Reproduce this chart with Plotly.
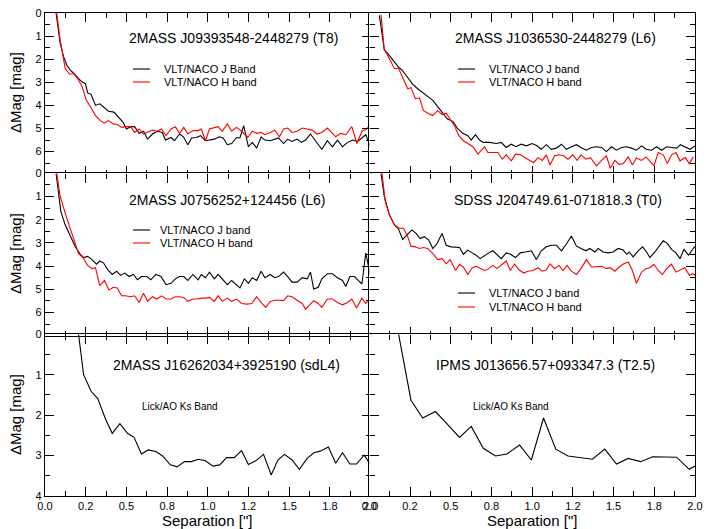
import plotly.graph_objects as go

# ---------------- data (separation ["], delta mag) ----------------
# Panel 1: 2MASS J09393548-2448279 (T8)
sep_0939_j = [0.068,0.093,0.114,0.134,0.155,0.18,0.206,0.227,0.248,0.262,0.283,0.31,0.336,0.36,0.39,0.423,0.454,0.48,0.5,0.526,0.55,0.578,0.605,0.63,0.66,0.69,0.72,0.74,0.774,0.795,0.826,0.85,0.877,0.9,0.93,0.955,0.985,1.01,1.04,1.07,1.094,1.12,1.146,1.176,1.197,1.22,1.249,1.273,1.3,1.327,1.35,1.383,1.41,1.434,1.465,1.49,1.517,1.548,1.575,1.6,1.63,1.66,1.70,1.734,1.765,1.796,1.827,1.858,1.89,1.92,1.946,1.97,2.0]
dm_0939_j = [0,1.31,1.89,2.26,2.47,2.62,2.84,2.98,3.06,3.46,3.52,4.0,3.93,4.08,4.25,4.29,4.51,4.73,5.02,4.92,4.92,5.21,5.12,5.46,5.24,5.12,5.17,5.5,5.39,5.53,5.24,5.36,5.7,5.41,5.39,5.31,5.53,5.5,5.46,5.36,5.41,5.7,5.65,5.39,5.41,4.88,5.79,5.6,5.85,5.36,5.5,5.53,5.46,5.41,5.65,5.46,5.56,5.46,5.6,5.5,5.24,5.53,5.9,5.53,5.79,5.5,5.79,5.6,5.5,5.56,5.41,5.27,5.82]
sep_0939_h = [0.072,0.093,0.124,0.151,0.175,0.2,0.227,0.254,0.283,0.31,0.34,0.365,0.39,0.42,0.444,0.47,0.495,0.526,0.55,0.578,0.605,0.63,0.66,0.687,0.716,0.743,0.774,0.8,0.826,0.852,0.877,0.908,0.94,0.96,0.985,1.01,1.04,1.063,1.088,1.12,1.146,1.176,1.207,1.245,1.273,1.3,1.327,1.35,1.383,1.41,1.44,1.465,1.49,1.517,1.548,1.58,1.61,1.64,1.67,1.70,1.734,1.765,1.785,1.816,1.847,1.884,1.915,1.946,1.975,2.0]
dm_0939_h = [0,1.16,2.4,2.65,2.62,2.84,3.17,3.78,4.1,4.44,4.66,4.77,4.66,4.8,4.83,4.95,4.92,4.92,5.17,5.02,5.24,5.17,5.07,5.12,5.02,5.31,5.02,4.92,5.21,4.95,5.24,5.09,5.09,5.02,5.53,5.02,4.98,4.92,5.12,4.8,5.12,4.95,5.12,5.39,5.12,5.21,5.17,5.27,5.17,5.07,5.36,5.02,4.98,5.17,5.12,4.98,5.02,5.07,5.24,5.17,4.98,5.21,5.36,5.21,5.27,4.92,5.65,5.12,5.02,4.83]

# Panel 2: 2MASS J1036530-2448279 (L6)
sep_1036_j = [0.062,0.092,0.113,0.144,0.174,0.205,0.236,0.267,0.297,0.328,0.359,0.39,0.42,0.45,0.48,0.513,0.544,0.574,0.605,0.626,0.652,0.677,0.7,0.738,0.78,0.81,0.84,0.872,0.9,0.933,0.964,1.0,1.03,1.056,1.087,1.118,1.149,1.18,1.21,1.241,1.272,1.3,1.333,1.364,1.395,1.426,1.456,1.487,1.518,1.549,1.58,1.61,1.64,1.672,1.7,1.733,1.764,1.795,1.826,1.856,1.887,1.91,1.945,1.97,2.0]
dm_1036_j = [0.1,1.6,1.75,2.04,2.3,2.5,2.8,3.09,3.28,3.46,3.64,3.78,4.05,4.34,4.59,4.69,5.02,5.21,5.31,5.5,5.27,5.5,5.6,5.6,5.65,5.6,5.82,5.68,5.79,5.68,5.75,5.65,5.75,5.9,5.7,5.9,5.85,5.68,5.9,5.79,5.7,5.82,5.94,5.82,5.79,5.82,6.0,5.79,5.94,5.82,5.79,5.85,5.94,5.75,5.9,5.94,5.79,5.94,5.79,5.82,5.85,5.7,5.82,5.9,5.75]
sep_1036_h = [0.072,0.092,0.123,0.154,0.18,0.205,0.236,0.256,0.283,0.308,0.332,0.359,0.39,0.42,0.447,0.472,0.496,0.523,0.55,0.578,0.605,0.636,0.667,0.687,0.708,0.728,0.759,0.79,0.816,0.841,0.872,0.898,0.927,0.954,0.985,1.009,1.036,1.062,1.087,1.11,1.138,1.165,1.194,1.22,1.25,1.276,1.3,1.33,1.358,1.395,1.426,1.456,1.48,1.508,1.534,1.56,1.59,1.616,1.64,1.672,1.7,1.723,1.748,1.774,1.805,1.83,1.856,1.883,1.908,1.94,1.965,1.99]
dm_1036_h = [0.07,1.57,1.97,2.4,2.4,2.77,3.28,3.23,3.71,3.67,4.22,4.34,4.44,4.22,4.4,4.34,4.59,4.88,5.31,5.53,5.65,5.79,6.11,5.97,5.79,6.04,6.04,6.04,6.33,6.14,6.4,6.11,6.14,6.26,6.4,6.48,6.26,6.38,6.14,6.58,6.18,6.14,6.18,6.33,6.14,6.38,6.14,6.33,6.26,6.62,6.38,6.18,6.72,6.38,6.55,6.52,6.23,6.58,6.28,6.38,6.23,6.4,6.62,6.04,6.14,6.52,6.14,6.04,6.4,6.26,6.52,6.23]

# Panel 3: 2MASS J0756252+124456 (L6)
sep_0756_j = [0.068,0.083,0.097,0.124,0.155,0.186,0.217,0.237,0.262,0.289,0.316,0.336,0.36,0.386,0.413,0.44,0.464,0.49,0.516,0.543,0.568,0.592,0.625,0.65,0.68,0.712,0.743,0.774,0.8,0.826,0.852,0.877,0.908,0.94,0.96,0.985,1.01,1.04,1.063,1.088,1.12,1.146,1.176,1.197,1.224,1.249,1.273,1.3,1.327,1.35,1.383,1.41,1.434,1.465,1.49,1.517,1.548,1.58,1.61,1.63,1.65,1.678,1.7,1.734,1.765,1.796,1.827,1.847,1.872,1.9,1.92,1.946,1.97,2.0]
dm_0756_j = [0,0.84,1.64,2.22,2.73,3.17,3.49,3.63,3.58,3.72,3.92,3.78,3.87,4.16,4.36,4.22,4.4,4.3,4.45,4.36,4.59,4.45,4.45,4.59,4.36,4.45,4.8,4.74,4.55,4.45,4.45,4.62,4.36,4.59,4.36,4.5,4.26,4.55,4.36,4.55,4.8,4.62,4.8,4.94,4.55,4.74,4.5,4.62,4.22,4.5,4.36,4.5,4.45,4.26,4.45,4.69,4.69,4.5,4.55,4.26,4.99,4.91,4.55,4.33,4.33,4.5,4.62,4.88,4.45,4.45,4.59,4.77,3.43,4.5]
sep_0756_h = [0.072,0.093,0.124,0.155,0.186,0.206,0.233,0.262,0.289,0.31,0.336,0.365,0.392,0.42,0.444,0.47,0.495,0.526,0.55,0.578,0.605,0.63,0.66,0.687,0.716,0.743,0.774,0.8,0.826,0.852,0.877,0.908,0.94,0.96,0.985,1.01,1.04,1.063,1.088,1.12,1.146,1.176,1.207,1.24,1.27,1.3,1.327,1.356,1.383,1.41,1.434,1.465,1.49,1.517,1.548,1.58,1.6,1.625,1.65,1.678,1.7,1.734,1.765,1.796,1.827,1.858,1.884,1.913,1.946,1.97,2.0]
dm_0756_h = [0,0.99,1.72,2.37,2.95,3.46,3.63,3.97,4.11,4.07,4.84,4.62,5.03,4.91,4.94,5.28,5.28,5.32,5.28,5.57,5.17,5.52,5.32,5.42,5.28,5.42,5.42,5.32,5.32,5.35,5.52,5.42,5.42,5.38,5.38,5.35,5.52,5.28,5.52,5.38,5.52,5.42,5.61,5.64,5.61,5.32,5.57,5.78,5.52,5.47,5.47,5.49,5.28,5.32,5.47,5.61,5.86,5.67,5.49,5.61,5.78,5.42,5.42,5.57,5.67,5.57,5.42,5.81,5.38,5.61,5.32]

# Panel 4: SDSS J204749.61-071818.3 (T0)
sep_2047_j = [0.072,0.092,0.123,0.154,0.18,0.205,0.236,0.262,0.287,0.312,0.338,0.365,0.39,0.414,0.447,0.472,0.503,0.533,0.554,0.578,0.605,0.632,0.656,0.68,0.708,0.734,0.759,0.784,0.81,0.841,0.866,0.898,0.927,0.96,0.995,1.026,1.056,1.087,1.118,1.149,1.18,1.21,1.241,1.272,1.3,1.33,1.354,1.385,1.405,1.436,1.467,1.497,1.528,1.559,1.58,1.596,1.62,1.651,1.678,1.703,1.723,1.754,1.78,1.805,1.83,1.856,1.883,1.908,1.932,1.96,2.0]
dm_2047_j = [0,0.99,1.79,2.22,2.41,2.85,2.62,2.44,2.59,2.81,2.73,2.88,3.24,3.05,2.59,3.1,3.17,3.2,3.2,3.49,3.31,3.43,3.53,3.68,3.53,3.43,3.34,3.49,3.68,3.43,3.49,3.63,3.43,3.39,3.34,3.72,3.34,3.17,3.1,3.1,3.34,3.05,2.7,3.14,3.24,3.34,3.24,3.39,3.24,3.39,3.43,3.39,3.24,3.31,3.49,3.39,3.6,3.34,3.17,3.39,3.63,3.39,3.14,2.91,3.02,3.28,3.43,3.68,3.28,3.53,3.14]
sep_2047_h = [0.078,0.098,0.123,0.154,0.185,0.21,0.236,0.256,0.283,0.308,0.332,0.359,0.39,0.42,0.447,0.472,0.496,0.53,0.554,0.578,0.605,0.632,0.656,0.68,0.708,0.734,0.759,0.784,0.81,0.841,0.866,0.892,0.919,0.948,0.974,1.005,1.036,1.062,1.087,1.11,1.138,1.165,1.19,1.214,1.241,1.272,1.3,1.333,1.364,1.395,1.426,1.456,1.48,1.508,1.534,1.563,1.59,1.616,1.64,1.672,1.7,1.723,1.748,1.774,1.8,1.826,1.856,1.883,1.908,1.938,1.965,1.99,2.0]
dm_2047_h = [0,1.21,1.79,2.22,2.37,2.37,2.73,3.14,3.17,3.24,3.2,3.24,3.46,3.72,3.68,3.9,3.72,4.19,3.92,4.04,4.36,4.07,4.01,4.11,4.19,4.11,3.97,4.11,3.97,3.78,4.19,3.92,4.16,4.3,4.22,4.19,4.07,4.22,4.16,3.9,4.11,3.97,4.19,3.97,4.22,4.36,4.11,3.72,4.04,4.01,4.01,4.11,4.07,4.22,4.04,3.9,3.82,4.19,4.74,4.26,4.11,4.07,3.92,4.19,4.36,4.11,3.92,4.26,4.16,4.07,4.4,4.33,4.4]

# Panel 5: 2MASS J16262034+3925190 (sdL4)
sep_1626_k = [0.206,0.237,0.283,0.324,0.372,0.413,0.46,0.506,0.547,0.592,0.634,0.681,0.722,0.77,0.811,0.857,0.898,0.943,0.985,1.032,1.073,1.115,1.162,1.207,1.249,1.294,1.342,1.389,1.43,1.47,1.517,1.562,1.61,1.651,1.69,1.74,1.785,1.827,1.872,1.913,1.96,2.0]
dm_1626_k = [0,1.0,1.41,1.59,2.1,2.45,2.21,2.45,2.55,2.96,2.86,2.9,3.01,3.23,3.28,3.15,3.15,3.09,3.13,3.26,3.23,3.05,3.05,2.88,3.22,3.13,2.97,3.48,3.11,2.97,3.11,3.34,3.07,2.93,2.89,2.79,3.19,2.93,3.21,3.21,2.99,3.23]

# Panel 6: IPMS J013656.57+093347.3 (T2.5)
sep_0136_k = [0.18,0.256,0.328,0.406,0.476,0.554,0.626,0.7,0.775,0.845,0.923,0.995,1.07,1.145,1.22,1.292,1.37,1.446,1.518,1.59,1.666,1.74,1.815,1.887,1.965,2.0]
dm_0136_k = [0,1.63,2.07,1.91,2.21,2.55,2.28,2.82,3.01,2.96,2.74,3.11,2.07,2.84,3.01,3.04,3.09,2.84,3.21,3.07,3.15,3.03,3.04,3.04,3.34,3.26]

x_tickvals = [0, 0.25, 0.5, 0.75, 1.0, 1.25, 1.5, 1.75, 2.0]
x_ticktext = ["0.0", "0.2", "0.5", "0.8", "1.0", "1.2", "1.5", "1.8", "2.0"]
x_minorvals = [0.125, 0.375, 0.625, 0.875, 1.125, 1.375, 1.625, 1.875]

titles = ["2MASS J09393548-2448279 (T8)", "2MASS J1036530-2448279 (L6)",
          "2MASS J0756252+124456 (L6)", "SDSS J204749.61-071818.3 (T0)",
          "2MASS J16262034+3925190 (sdL4)", "IPMS J013656.57+093347.3 (T2.5)"]
legend_j = ["VLT/NACO J Band", "VLT/NACO J band", "VLT/NACO J band", "VLT/NACO J band"]
legend_h = ["VLT/NACO H band", "VLT/NACO H band", "VLT/NACO H band", "VLT/NACO H band"]
lick_label = "Lick/AO Ks Band"

# ---------------- layout helpers ----------------
W, H = 724, 529
ML, MR, MT, MB = 45, 29, 13, 33
PW, PH = W - ML - MR, H - MT - MB
FONT = "Liberation Sans, Arial, sans-serif"
LW = 1.4


def px(x):
    return (x - ML) / PW


def py(y):
    return (H - MB - y) / PH


fig = go.Figure()

panels = [
    (0, 0, [(sep_0939_j, dm_0939_j, "black"), (sep_0939_h, dm_0939_h, "red")]),
    (0, 1, [(sep_1036_j, dm_1036_j, "black"), (sep_1036_h, dm_1036_h, "red")]),
    (1, 0, [(sep_0756_j, dm_0756_j, "black"), (sep_0756_h, dm_0756_h, "red")]),
    (1, 1, [(sep_2047_j, dm_2047_j, "black"), (sep_2047_h, dm_2047_h, "red")]),
    (2, 0, [(sep_1626_k, dm_1626_k, "black")]),
    (2, 1, [(sep_0136_k, dm_0136_k, "black")]),
]

# domains overlap by one line width so shared borders coincide
dx = (LW / 2) / PW
dy = (LW / 2) / PH
xdom = [[0, 0.5 + dx], [0.5 - dx, 1]]
ydom = [[2 / 3 - dy, 1], [1 / 3 - dy, 2 / 3 + dy], [0, 1 / 3 + dy]]

layout = {}
for i, (row, col, series) in enumerate(panels):
    k = i + 1
    xa = "x" if k == 1 else f"x{k}"
    ya = "y" if k == 1 else f"y{k}"
    for sx, sy, c in series:
        fig.add_trace(go.Scatter(x=sx, y=sy, mode="lines", xaxis=xa, yaxis=ya,
                                 line=dict(color=c, width=1.1), showlegend=False,
                                 hoverinfo="skip"))
    bottom = row == 2
    ymax = 4 if bottom else 7
    yt = list(range(0, 5)) if bottom else list(range(0, 7))
    ymin_vals = [v + 0.5 for v in range(0, ymax)]
    common = dict(showline=True, linecolor="black", linewidth=LW, mirror="allticks",
                  ticks="inside", ticklen=9, tickwidth=1, tickcolor="black",
                  showgrid=False, zeroline=False, automargin=False,
                  tickfont=dict(family=FONT, size=11, color="black"))
    layout["xaxis" if k == 1 else f"xaxis{k}"] = dict(
        common, domain=xdom[col], range=[0, 2], anchor=ya,
        tickmode="array", tickvals=x_tickvals, ticktext=x_ticktext,
        showticklabels=bottom,
        minor=dict(tickmode="array", tickvals=x_minorvals, ticks="inside",
                   ticklen=5, tickwidth=1, tickcolor="black"))
    layout["yaxis" if k == 1 else f"yaxis{k}"] = dict(
        common, domain=ydom[row], range=[ymax, 0], anchor=xa,
        tickmode="array", tickvals=yt, ticktext=[str(v) for v in yt],
        showticklabels=(col == 0),
        minor=dict(tickmode="array", tickvals=ymin_vals, ticks="inside",
                   ticklen=5, tickwidth=1, tickcolor="black"))

annotations = []
shapes = []

# panel titles (pixel centres)
title_pos = [(233, 38), (555, 38), (228, 200), (558, 200), (226, 365), (545, 365)]
for t, (cx, cy) in zip(titles, title_pos):
    annotations.append(dict(text=t, x=px(cx), y=py(cy), xref="paper", yref="paper",
                            showarrow=False, xanchor="center", yanchor="middle",
                            font=dict(family=FONT, size=14, color="black")))

# legends
leg_pos = [(133, 162, 69, 82), (458, 487, 69, 82), (133, 158, 230, 243), (458, 487, 293, 307)]
for (lx, tx, yj, yh), lj, lh in zip(leg_pos, legend_j, legend_h):
    for yy, txt, c in [(yj, lj, "black"), (yh, lh, "red")]:
        shapes.append(dict(type="line", xref="paper", yref="paper",
                           x0=px(lx), x1=px(lx + 17), y0=py(yy), y1=py(yy),
                           line=dict(color=c, width=1.1)))
        annotations.append(dict(text=txt, x=px(tx), y=py(yy), xref="paper", yref="paper",
                                showarrow=False, xanchor="left", yanchor="middle",
                                font=dict(family=FONT, size=11, color="black")))

for cx in (180, 511):
    annotations.append(dict(text=lick_label, x=px(cx), y=py(406), xref="paper", yref="paper",
                            showarrow=False, xanchor="center", yanchor="middle",
                            font=dict(family=FONT, size=10, color="black")))

# axis titles
for cy in (93, 254, 415):
    annotations.append(dict(text="ΔMag [mag]", x=px(15), y=py(cy), xref="paper", yref="paper",
                            showarrow=False, xanchor="center", yanchor="middle", textangle=-90,
                            font=dict(family=FONT, size=15, color="black")))
for cx in (207, 532):
    annotations.append(dict(text='Separation ["]', x=px(cx), y=py(520), xref="paper", yref="paper",
                            showarrow=False, xanchor="center", yanchor="middle",
                            font=dict(family=FONT, size=15, color="black")))

fig.update_layout(width=W, height=H, margin=dict(l=ML, r=MR, t=MT, b=MB),
                  paper_bgcolor="white", plot_bgcolor="white",
                  showlegend=False, annotations=annotations, shapes=shapes, **layout)

fig.write_html("out.html", config={"displayModeBar": False},
               post_script="document.body.style.margin='0';document.body.style.overflow='hidden';")
